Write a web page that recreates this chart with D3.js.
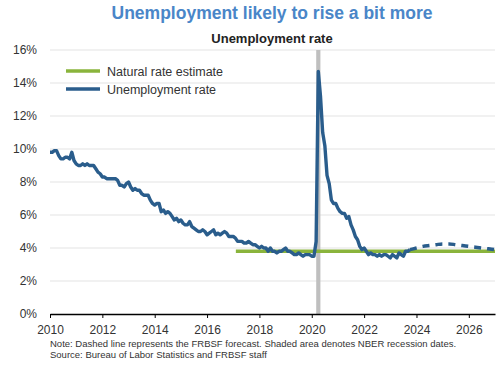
<!DOCTYPE html>
<html><head><meta charset="utf-8">
<script src="https://cdn.jsdelivr.net/npm/d3@7"></script>
<style>body{margin:0;background:#fff;font-family:Arial,"Liberation Sans",sans-serif;}</style>
</head><body><svg id="c" width="500" height="365"></svg>
<script>
const years = [2010,2011,2012,2013,2014,2015,2016,2017,2018,2019,2020,2021,2022,2023];
const unempMonthly = [
 [9.8,9.8,9.9,9.9,9.6,9.4,9.4,9.5,9.5,9.4,9.8,9.3],
 [9.1,9.0,9.0,9.1,9.0,9.1,9.0,9.0,9.0,8.8,8.6,8.5],
 [8.3,8.3,8.2,8.2,8.2,8.2,8.2,8.1,7.8,7.8,7.7,7.9],
 [8.0,7.7,7.5,7.6,7.5,7.5,7.3,7.2,7.2,7.2,6.9,6.7],
 [6.6,6.7,6.7,6.2,6.3,6.1,6.2,6.1,5.9,5.7,5.8,5.6],
 [5.7,5.5,5.4,5.4,5.6,5.3,5.2,5.1,5.0,5.0,5.1,5.0],
 [4.8,4.9,5.0,5.1,4.8,4.9,4.8,4.9,5.0,4.9,4.7,4.7],
 [4.7,4.6,4.4,4.4,4.4,4.3,4.3,4.4,4.3,4.2,4.2,4.1],
 [4.0,4.1,4.0,4.0,3.8,4.0,3.8,3.8,3.7,3.8,3.8,3.9],
 [4.0,3.8,3.8,3.7,3.6,3.6,3.7,3.6,3.5,3.6,3.6,3.6],
 [3.5,3.5,4.4,14.7,13.2,11.0,10.2,8.4,7.9,6.9,6.7,6.7],
 [6.4,6.2,6.1,6.1,5.8,5.9,5.4,5.1,4.7,4.5,4.1,3.9],
 [4.0,3.8,3.6,3.7,3.6,3.6,3.5,3.6,3.5,3.6,3.6,3.5],
 [3.4,3.6,3.5,3.4,3.7,3.6,3.5,3.8,3.8,3.9]
];
const forecastDates = [2023.75,2024.0,2024.25,2024.5,2024.75,2025.0,2025.25,2025.5,2025.75,2026.0,2026.25,2026.5,2026.75,2027.0];
const forecastValues = [3.9,4.0,4.1,4.15,4.2,4.25,4.25,4.2,4.15,4.1,4.05,4.0,3.95,3.9];
const naturalDates = [2017.1, 2027.0];
const naturalValues = [3.8, 3.8];
const recession = [2020.17, 2020.33];
const yTicks = [0,2,4,6,8,10,12,14,16];
const xTicks = [2010,2012,2014,2016,2018,2020,2022,2024,2026];

const unemp = [];
unempMonthly.forEach((row,i)=>row.forEach((v,m)=>unemp.push({t:years[i]+m/12, v})));
const forecast = forecastDates.map((t,i)=>({t, v:forecastValues[i]}));
const natural = naturalDates.map((t,i)=>({t, v:naturalValues[i]}));

const svg = d3.select("#c");
const L=50, R=495, T=50, B=314;
const x = d3.scaleLinear().domain([2010,2027]).range([L,R]);
const y = d3.scaleLinear().domain([0,16]).range([B,T]);

svg.append("text").attr("x",272).attr("y",19).attr("text-anchor","middle")
  .attr("font-size",17.5).attr("font-weight","bold").attr("fill","#4a86c8")
  .text("Unemployment likely to rise a bit more");
svg.append("text").attr("x",272).attr("y",43).attr("text-anchor","middle")
  .attr("font-size",13).attr("font-weight","bold").attr("fill","#222")
  .text("Unemployment rate");

// gridlines
svg.append("g").selectAll("line").data(yTicks.filter(d=>d>0)).join("line")
  .attr("x1",L).attr("x2",R).attr("y1",d=>y(d)).attr("y2",d=>y(d))
  .attr("stroke","#e3e3e3").attr("stroke-width",1);
// y labels
svg.append("g").selectAll("text").data(yTicks).join("text")
  .attr("x",37).attr("y",d=>y(d)+4).attr("text-anchor","end")
  .attr("font-size",12).attr("fill","#333").text(d=>d+"%");

// recession
svg.append("rect").attr("x",x(recession[0])).attr("y",T)
  .attr("width",x(recession[1])-x(recession[0])).attr("height",B-T).attr("fill","#bfbfbf");

const line = d3.line().x(d=>x(d.t)).y(d=>y(d.v));
svg.append("path").datum(natural).attr("d",line).attr("fill","none")
  .attr("stroke","#8ab43c").attr("stroke-width",3.5);
svg.append("path").datum(unemp).attr("d",line).attr("fill","none")
  .attr("stroke","#2a5d8c").attr("stroke-width",3.4).attr("stroke-linejoin","round");
svg.append("path").datum(forecast).attr("d",d3.line().x(d=>x(d.t)).y(d=>y(d.v)).curve(d3.curveMonotoneX))
  .attr("fill","none").attr("stroke","#2a5d8c").attr("stroke-width",3.5).attr("stroke-dasharray","7,6");

// x axis
const xa = svg.append("g").attr("transform",`translate(0,${B})`)
  .call(d3.axisBottom(x).tickValues(xTicks).tickFormat(d3.format("d")).tickSize(4).tickSizeOuter(0));
xa.select(".domain").attr("stroke","#000").attr("stroke-width",1.5);
xa.selectAll(".tick line").attr("stroke","#000");
xa.selectAll("text").attr("font-size",12).attr("fill","#333").attr("font-family","Arial,'Liberation Sans',sans-serif").attr("dy","1.05em");

// legend
const leg = [{label:"Natural rate estimate", c:"#8ab43c", y:71},{label:"Unemployment rate", c:"#2a5d8c", y:89}];
const lg = svg.append("g");
lg.selectAll("line").data(leg).join("line").attr("x1",66).attr("x2",100)
  .attr("y1",d=>d.y).attr("y2",d=>d.y).attr("stroke",d=>d.c).attr("stroke-width",3.5);
lg.selectAll("text").data(leg).join("text").attr("x",107).attr("y",d=>d.y+4.5)
  .attr("font-size",12.5).attr("fill","#333").text(d=>d.label);

// notes
svg.append("text").attr("x",50).attr("y",347).attr("font-size",9.5).attr("fill","#333")
  .text("Note: Dashed line represents the FRBSF forecast. Shaded area denotes NBER recession dates.");
svg.append("text").attr("x",50).attr("y",358).attr("font-size",9.5).attr("fill","#333")
  .text("Source: Bureau of Labor Statistics and FRBSF staff");
</script></body></html>
